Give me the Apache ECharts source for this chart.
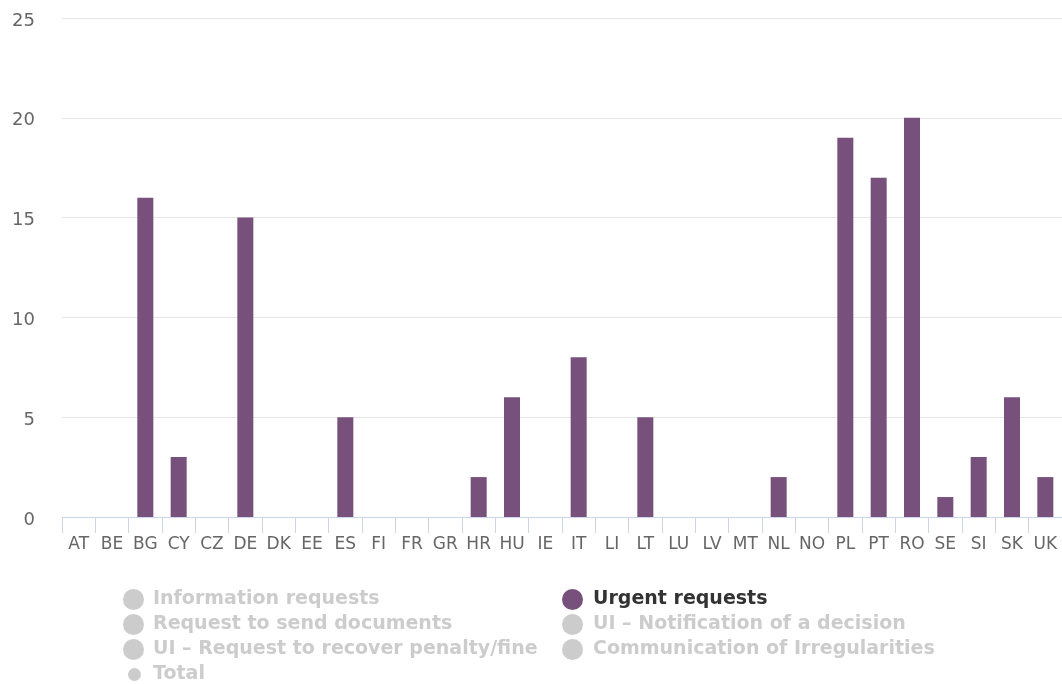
<!DOCTYPE html>
<html>
<head>
<meta charset="utf-8">
<script src="https://cdn.jsdelivr.net/npm/echarts@6/dist/echarts.min.js"></script>
<style>
    html, body { margin: 0; padding: 0; background: #fff; }
    #chart { width: 1062px; height: 684px; }
</style>
</head>
<body>
<div id="chart"></div>
<script>
var countries = ['AT', 'BE', 'BG', 'CY', 'CZ', 'DE', 'DK', 'EE', 'ES', 'FI', 'FR', 'GR', 'HR', 'HU', 'IE',
    'IT', 'LI', 'LT', 'LU', 'LV', 'MT', 'NL', 'NO', 'PL', 'PT', 'RO', 'SE', 'SI', 'SK', 'UK'];
var urgentRequests = [0, 0, 16, 3, 0, 15, 0, 0, 5, 0, 0, 0, 2, 6, 0,
    8, 0, 5, 0, 0, 0, 2, 0, 19, 17, 20, 1, 3, 6, 2];
var hiddenSeries = ['Information requests', 'Request to send documents', 'UI – Request to recover penalty/fine',
    'UI – Notification of a decision', 'Communication of Irregularities'];
var yTicks = [0, 5, 10, 15, 20, 25];

document.addEventListener('DOMContentLoaded', function () {
    var chart = echarts.init(document.getElementById('chart'));
    var font = 'DejaVu Sans';

    var selected = {};
    hiddenSeries.forEach(function (n) { selected[n] = false; });
    selected['Total'] = false;
    selected['Urgent requests'] = true;

    var series = hiddenSeries.map(function (n) {
        return { name: n, type: 'bar', data: [] };
    });
    series.push({
        name: 'Urgent requests',
        type: 'bar',
        data: urgentRequests,
        barWidth: 16,
        itemStyle: { color: '#77507c' }
    });
    series.push({ name: 'Total', type: 'line', data: [] });

    var legendBase = {
        orient: 'vertical',
        icon: 'circle',
        itemWidth: 21,
        itemHeight: 21,
        itemGap: 4,
        selected: selected,
        inactiveColor: '#cccccc',
        textStyle: {
            fontFamily: font, fontSize: 19, fontWeight: 'bold', color: '#333',
            padding: [0, 0, 0, 4]
        }
    };

    var option = {
        animation: false,
        grid: { left: 62, right: 0, top: 18, bottom: 167, containLabel: false },
        legend: [
            Object.assign({}, legendBase, {
                left: 118, top: 584,
                data: ['Information requests', 'Request to send documents', 'UI – Request to recover penalty/fine']
            }),
            Object.assign({}, legendBase, {
                left: 123, top: 660, itemWidth: 13, itemHeight: 13,
                textStyle: Object.assign({}, legendBase.textStyle, { padding: [0, 0, 0, 7] }),
                data: ['Total']
            }),
            Object.assign({}, legendBase, {
                left: 557, top: 584,
                textStyle: Object.assign({}, legendBase.textStyle, { padding: [0, 0, 0, 5] }),
                data: ['Urgent requests', 'UI – Notification of a decision', 'Communication of Irregularities']
            })
        ],
        xAxis: {
            type: 'category',
            data: countries,
            axisLine: { lineStyle: { color: '#ccd6eb' } },
            axisTick: { show: true, length: 16, lineStyle: { color: '#ccd6eb' } },
            axisLabel: { color: '#666', fontFamily: font, fontSize: 17, margin: 19, interval: 0 }
        },
        yAxis: {
            type: 'value',
            min: yTicks[0],
            max: yTicks[yTicks.length - 1],
            interval: 5,
            axisLine: { show: false },
            axisTick: { show: false },
            splitLine: { lineStyle: { color: '#e6e6e6' } },
            axisLabel: {
                color: '#666', fontFamily: font, fontSize: 18, margin: 27,
                formatter: '{v|{value}}',
                rich: { v: { fontFamily: font, fontSize: 18, color: '#666', padding: [6, 0, 0, 0] } }
            }
        },
        series: series
    };

    chart.setOption(option);
    window.addEventListener('resize', function () {
        chart.resize();
    });
});
</script>
</body>
</html>
